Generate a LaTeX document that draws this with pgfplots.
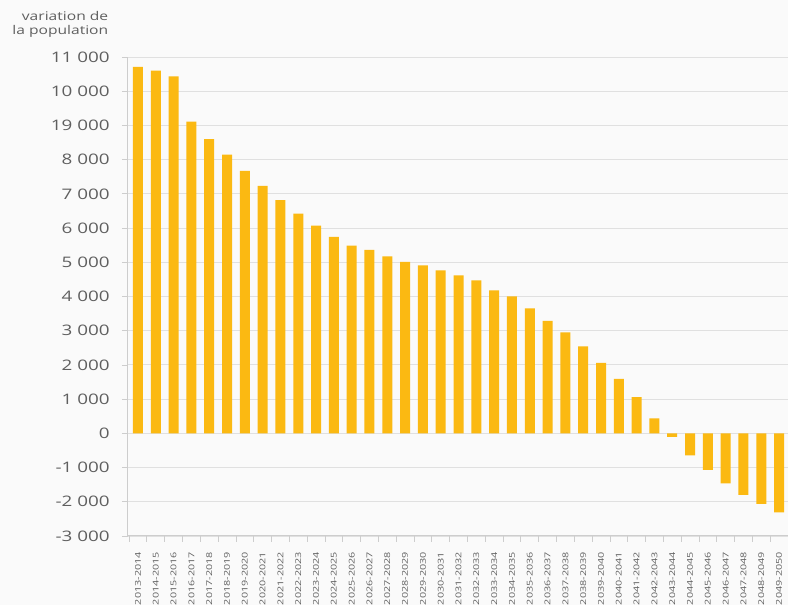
\documentclass[border=0pt]{standalone}
\usepackage{pgfplots}
\usepackage{pgfplotstable}
\pgfplotsset{compat=1.18}
\usepackage{fontspec}
\setmainfont{Open Sans}

\definecolor{barc}{RGB}{251,185,18}
\definecolor{gridc}{RGB}{224,224,224}
\definecolor{axisc}{RGB}{205,205,205}
\definecolor{txtc}{RGB}{95,95,95}
\definecolor{bgc}{RGB}{250,250,250}

% yearly population change
\pgfplotstableread{
idx val
0 10710
1 10600
2 10430
3 9110
4 8600
5 8150
6 7670
7 7230
8 6820
9 6420
10 6070
11 5740
12 5490
13 5360
14 5170
15 5010
16 4910
17 4760
18 4620
19 4470
20 4180
21 4000
22 3650
23 3290
24 2950
25 2540
26 2060
27 1590
28 1060
29 440
30 -100
31 -640
32 -1070
33 -1460
34 -1800
35 -2060
36 -2310
}\pop

\begin{document}
\begin{tikzpicture}
\fill[bgc] (-128pt,-69pt) rectangle (660pt,536pt);
\begin{axis}[
  at={(0,0)}, anchor=south west,
  scale only axis, width=660pt, height=479pt,
  xmin=-0.56, xmax=36.5, ymin=-3000, ymax=11000,
  ybar, bar width=10pt, bar shift=0pt,
  scaled y ticks=false,
  axis x line*=bottom, axis y line*=left,
  axis line style={axisc, line width=1pt},
  ymajorgrids, major grid style={gridc, line width=0.9pt},
  ytick={-3000,-2000,...,11000},
  yticklabels={-3 000,-2 000,-1 000,0,1 000,2 000,3 000,4 000,5 000,6 000,7 000,8 000,19 000,10 000,11 000},
  xtick={0,...,36},
  xticklabels={2013-2014,2014-2015,2015-2016,2016-2017,2017-2018,2018-2019,2019-2020,2020-2021,2021-2022,2022-2023,2023-2024,2024-2025,2025-2026,2026-2027,2027-2028,2028-2029,2029-2030,2030-2031,2031-2032,2032-2033,2033-2034,2034-2035,2035-2036,2036-2037,2037-2038,2038-2039,2039-2040,2040-2041,2041-2042,2042-2043,2043-2044,2044-2045,2045-2046,2046-2047,2047-2048,2048-2049,2049-2050},
  minor xtick={-0.5,0.5,...,36.5},
  major x tick style={draw=none},
  tick align=outside, major tick length=6pt, minor tick length=6pt,
  tick style={axisc, line width=0.8pt},
  yticklabel style={font=\fontsize{14.5}{14.5}\selectfont, text=txtc, xscale=1.3, xshift=-6pt},
  xticklabel style={font=\fontsize{8}{8}\selectfont, text=txtc, rotate=90, xscale=1.35, anchor=east, xshift=-4pt},
  title={variation de\\la population},
  title style={at={(axis description cs:-0.023,1.022)}, anchor=south east, align=right,
    font=\fontsize{12}{14}\selectfont, text=txtc, xscale=1.3},
]
\addplot[fill=barc, draw=none] table[x=idx, y=val] {\pop};
\end{axis}
\pgfresetboundingbox
\useasboundingbox (-128pt,-69pt) rectangle (660pt,536pt);
\end{tikzpicture}
\end{document}
